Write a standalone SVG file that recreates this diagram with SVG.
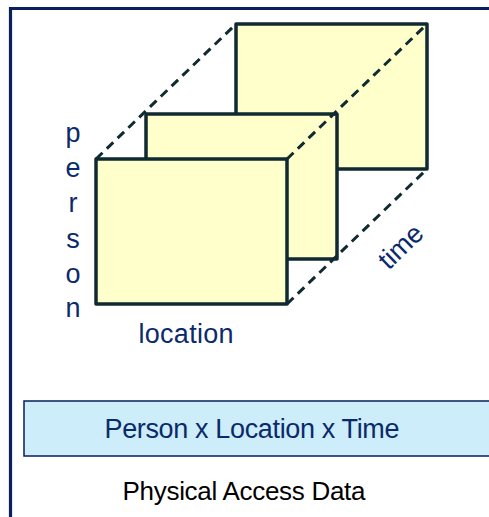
<svg xmlns="http://www.w3.org/2000/svg" width="489" height="517" viewBox="0 0 489 517">
<style>
.slab{fill:#ffffcc;stroke:#0f2a30;stroke-width:3.5;stroke-linejoin:round}
.dash{fill:none;stroke:#0f2a30;stroke-width:3;stroke-dasharray:9 6}
.lbl{font-family:"Liberation Sans","DejaVu Sans",sans-serif;fill:#0b2a6b;font-size:27px}
</style>
<rect width="489" height="517" fill="#ffffff"/>
<g id="frame"><path d="M10.5 519 V8.5 H492" fill="none" stroke="#0a1f5c" stroke-width="3.2"/></g>
<g id="slab-back"><rect class="slab" x="236" y="24" width="191" height="145"/></g>
<g id="slab-middle"><rect class="slab" x="146" y="114" width="191" height="145"/></g>
<g id="slab-front"><rect class="slab" x="96" y="159" width="191" height="145"/></g>
<g id="connectors">
<line class="dash" x1="96" y1="159" x2="236" y2="24"/>
<line class="dash" x1="287" y1="159" x2="427" y2="24"/>
<line class="dash" x1="287" y1="304" x2="427" y2="169"/>
</g>
<g id="axis-person" class="lbl" text-anchor="middle">
<text x="73" y="142">p</text>
<text x="73" y="177">e</text>
<text x="73" y="212">r</text>
<text x="73" y="248">s</text>
<text x="73" y="283">o</text>
<text x="73" y="317">n</text>
</g>
<g id="axis-location"><text class="lbl" x="186" y="343" text-anchor="middle" textLength="95">location</text></g>
<g id="axis-time"><text class="lbl" transform="translate(407,253) rotate(-44)" text-anchor="middle" font-size="28">time</text></g>
<g id="dimension-box">
<rect x="24" y="401" width="470" height="55" fill="#ccedf9" stroke="#0a1f5c" stroke-width="1.5"/>
<text class="lbl" x="252" y="438" text-anchor="middle" textLength="295">Person x Location x Time</text>
</g>
<g id="caption"><text x="244" y="500" text-anchor="middle" font-family="'Liberation Sans','DejaVu Sans',sans-serif" font-size="26" fill="#000" textLength="243">Physical Access Data</text></g>
</svg>
